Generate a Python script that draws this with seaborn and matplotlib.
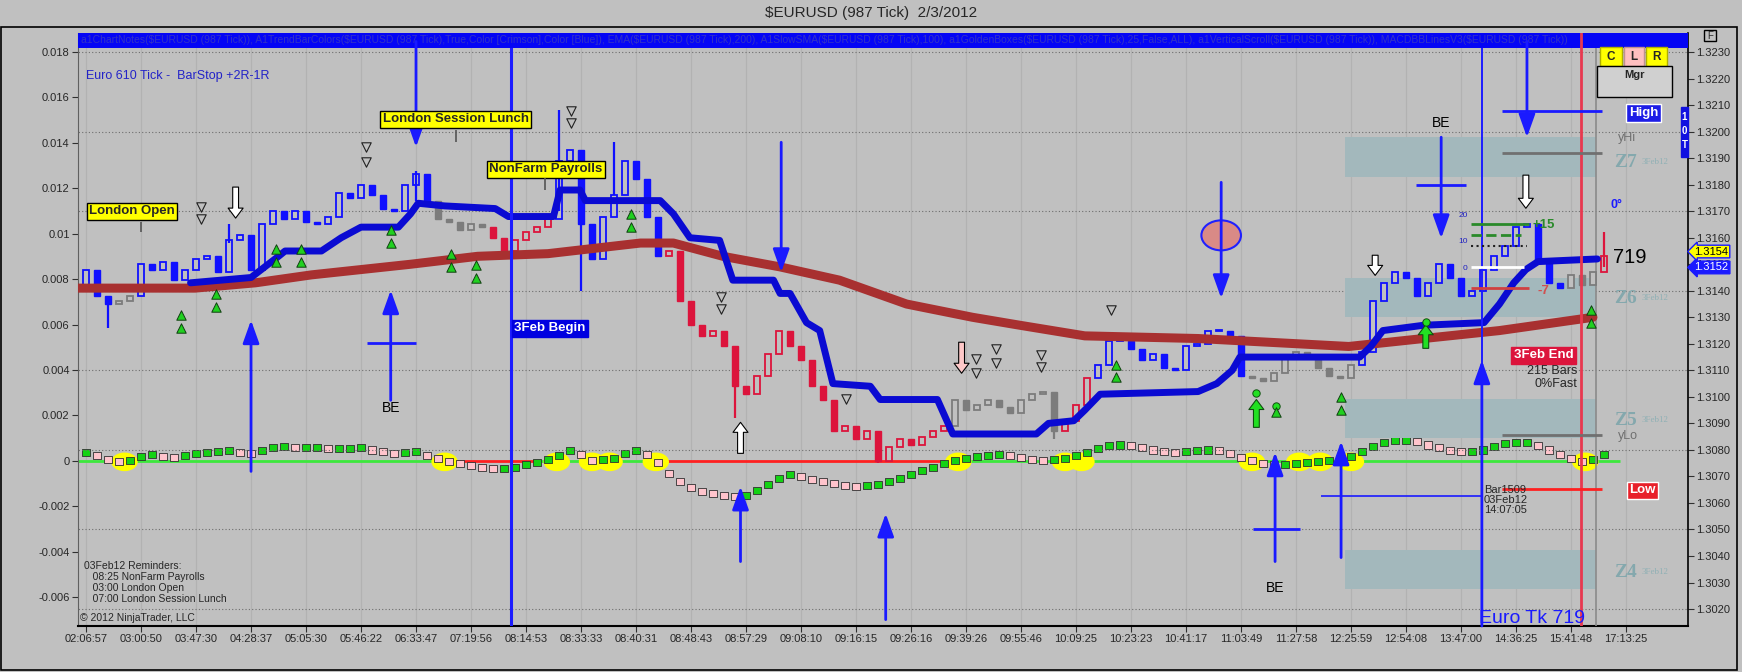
import numpy as np
import pandas as pd
import seaborn as sns
import matplotlib.pyplot as plt
from matplotlib.patches import Rectangle, Ellipse
from matplotlib.ticker import FuncFormatter, FormatStrFormatter

sns.set_style("ticks")
plt.rcParams['font.family'] = ['Liberation Sans', 'DejaVu Sans']

BG = '#c0c0c0'
W, H = 1742, 672

# x = bar number, one time label every 5 bars
time_labels = ["02:06:57", "03:00:50", "03:47:30", "04:28:37", "05:05:30", "05:46:22",
               "06:33:47", "07:19:56", "08:14:53", "08:33:33", "08:40:31", "08:48:43",
               "08:57:29", "09:08:10", "09:16:15", "09:26:16", "09:39:26", "09:55:46",
               "10:09:25", "10:23:23", "10:41:17", "11:03:49", "11:27:58", "12:25:59",
               "12:54:08", "13:47:00", "14:36:25", "15:41:48", "17:13:25"]
left_ticks = [-0.006, -0.004, -0.002, 0, 0.002, 0.004, 0.006, 0.008, 0.01, 0.012, 0.014, 0.016, 0.018]
price_ticks = [1.3020, 1.3030, 1.3040, 1.3050, 1.3060, 1.3070, 1.3080, 1.3090, 1.3100, 1.3110, 1.3120,
               1.3130, 1.3140, 1.3150, 1.3160, 1.3170, 1.3180, 1.3190, 1.3200, 1.3210, 1.3220, 1.3230]
grid_levels = [1.3020, 1.3050, 1.3080, 1.3110, 1.3140, 1.3170, 1.3200, 1.3230]

# closes of the tick bars
first_open = 1.3142
close = [1.3148, 1.3138, 1.3135, 1.3136, 1.3138, 1.3150, 1.3148, 1.3151, 1.3144, 1.3148,
         1.3152, 1.3153, 1.3147, 1.3159, 1.3161, 1.3148, 1.3165, 1.3170, 1.3167, 1.3170,
         1.3166, 1.3165, 1.3168, 1.3177, 1.3175, 1.3180, 1.3176, 1.3171, 1.3170, 1.3180,
         1.3184, 1.3174, 1.3167, 1.3166, 1.3163, 1.3165, 1.3164, 1.3160, 1.3155, 1.3159,
         1.3162, 1.3164, 1.3167, 1.3189, 1.3193, 1.3165, 1.3152, 1.3168, 1.3176, 1.3189,
         1.3182, 1.3168, 1.3153, 1.3155, 1.3136, 1.3127, 1.3123, 1.3125, 1.3119, 1.3104,
         1.3101, 1.3108, 1.3116, 1.3125, 1.3119, 1.3114, 1.3104, 1.3099, 1.3087, 1.3089,
         1.3084, 1.3087, 1.3076, 1.3081, 1.3084, 1.3082, 1.3085, 1.3087, 1.3089, 1.3099,
         1.3095, 1.3097, 1.3099, 1.3096, 1.3094, 1.3099, 1.3101, 1.3102, 1.3087, 1.3091,
         1.3097, 1.3107, 1.3112, 1.3121, 1.3121, 1.3118, 1.3114, 1.3116, 1.3111, 1.3110,
         1.3119, 1.3120, 1.3125, 1.3125, 1.3123, 1.3108, 1.3107, 1.3106, 1.3109, 1.3115,
         1.3117, 1.3115, 1.3111, 1.3108, 1.3107, 1.3112, 1.3117, 1.3136, 1.3143, 1.3147,
         1.3145, 1.3138, 1.3143, 1.3150, 1.3145, 1.3138, 1.3140, 1.3148, 1.3153, 1.3157,
         1.3164, 1.3165, 1.3151, 1.3143, 1.3141, 1.3146, 1.3142, 1.3147, 1.3153]
trend_start = [0, 3, 5, 32, 37, 43, 53, 79, 89, 92, 106, 116, 135, 138]
trend_color = ['blue', 'gray', 'blue', 'gray', 'red', 'blue', 'red', 'gray', 'red', 'blue',
               'gray', 'blue', 'gray', 'red']
wick_bar = [2, 13, 30, 43, 45, 48, 59, 72, 88, 138]
wick_hi = [1.3138, 1.3165, 1.3185, 1.3208, 1.3168, 1.3196, 1.3104, 1.3084, 1.3099, 1.3162]
wick_lo = [1.3126, 1.3158, 1.3174, 1.3170, 1.3140, 1.3176, 1.3092, 1.3075, 1.3084, 1.3149]

# oscillator (left scale)
osc = [0.00035, 0.00022, 0.00004, -0.00004, 0.0, 0.00018, 0.00026, 0.00018, 0.00013, 0.00022,
       0.00031, 0.00035, 0.00040, 0.00044, 0.00035, 0.00031, 0.00044, 0.00057, 0.00062, 0.00057,
       0.00057, 0.00057, 0.00053, 0.00053, 0.00053, 0.00057, 0.00048, 0.00040, 0.00031, 0.00035,
       0.00040, 0.00022, 0.00009, -0.00004, -0.00013, -0.00022, -0.00031, -0.00035, -0.00035, -0.00031,
       -0.00018, -0.00009, 0.00004, 0.00022, 0.00044, 0.00026, 0.0, 0.00004, 0.00009, 0.00031,
       0.00044, 0.00026, -0.00009, -0.00057, -0.00092, -0.00119, -0.00136, -0.00145, -0.00154, -0.00158,
       -0.00154, -0.00132, -0.00106, -0.00079, -0.00062, -0.00070, -0.00084, -0.00092, -0.00101, -0.00110,
       -0.00114, -0.00110, -0.00106, -0.00092, -0.00079, -0.00062, -0.00044, -0.00031, -0.00013, 0.0,
       0.00009, 0.00018, 0.00022, 0.00026, 0.00022, 0.00013, 0.00004, 0.0, 0.00004, 0.00009,
       0.00022, 0.00035, 0.00053, 0.00066, 0.00070, 0.00066, 0.00057, 0.00048, 0.00040, 0.00035,
       0.00040, 0.00044, 0.00048, 0.00044, 0.00031, 0.00013, 0.0, -0.00013, -0.00018, -0.00018,
       -0.00013, -0.00009, -0.00004, 0.0, 0.00004, 0.00018, 0.00040, 0.00062, 0.00079, 0.00088,
       0.00092, 0.00084, 0.00070, 0.00057, 0.00044, 0.00040, 0.00040, 0.00048, 0.00062, 0.00075,
       0.00079, 0.00079, 0.00066, 0.00048, 0.00026, 0.00009, -0.00004, 0.00004, 0.00026]
zero_start = [-0.73, 32.7, 41.3, 52.2, 79.0]
zero_end = [32.7, 41.3, 52.2, 79.0, 139.5]
zero_color = ['#3ce83c', '#ff2020', '#3ce83c', '#ff2020', '#3ce83c']
yellow_bar = [3.5, 32.6, 42.8, 46.0, 47.6, 51.8, 79.3, 89.0, 90.5, 106.0, 110.3, 112.2, 115.0, 136.3]

# slow moving average and bar stop
ma_bar = [-0.7, 9.9, 15.4, 20.5, 29.5, 35.6, 42.0, 50.4, 53.4, 57.9, 63.1, 68.5, 74.6, 80.6,
          84.9, 90.8, 101.1, 114.8, 121.6, 128.5, 137.0]
ma_val = [1.3141, 1.3141, 1.3143, 1.3146, 1.3150, 1.3153, 1.3154, 1.3158, 1.3158, 1.3153, 1.3149,
          1.3144, 1.3135, 1.3130, 1.3127, 1.3123, 1.3122, 1.3119, 1.3122, 1.3125, 1.3130]
stop_bar = [9.5, 15.0, 17.5, 18.1, 21.4, 23.2, 25.0, 28.4, 29.5, 30.2, 32.6, 37.2, 38.4, 42.5,
            43.1, 44.9, 45.4, 52.2, 53.4, 54.9, 57.6, 58.8, 62.5, 63.1, 64.0, 65.5, 66.7, 67.9,
            71.3, 72.2, 77.4, 78.8, 86.4, 87.5, 89.8, 90.8, 92.2, 101.1, 102.8, 104.2, 104.9,
            115.8, 116.8, 117.9, 121.6, 127.1, 128.5, 129.8, 130.9, 132.0, 137.4]
stop_val = [1.3143, 1.3145, 1.3153, 1.3155, 1.3155, 1.3160, 1.3164, 1.3164, 1.3169, 1.3173,
            1.3172, 1.3171, 1.3168, 1.3168, 1.3178, 1.3178, 1.3174, 1.3174, 1.3169, 1.3160,
            1.3159, 1.3144, 1.3144, 1.3139, 1.3139, 1.3128, 1.3125, 1.3105, 1.3104, 1.3099,
            1.3099, 1.3086, 1.3086, 1.3090, 1.3091, 1.3095, 1.3101, 1.3102, 1.3105, 1.3110,
            1.3115, 1.3115, 1.3119, 1.3125, 1.3127, 1.3128, 1.3135, 1.3143, 1.3148, 1.3151, 1.3152]

# golden boxes (zones)
zone_names = ['Z7', 'Z6', 'Z5', 'Z4']
zone_top = [1.31979, 1.31447, 1.30991, 1.30421]
zone_bot = [1.31828, 1.31300, 1.30843, 1.30274]
zone_label = [1.31885, 1.31372, 1.30911, 1.30338]

# markers and arrows
arrow_bar = [30.0, 15.0, 27.7, 63.2, 59.5, 72.7, 103.2, 108.1, 114.1, 123.2, 126.9, 131.0]
arrow_from = [1.32340, 1.30719, 1.30987, 1.31960, 1.30379, 1.30160, 1.31809, 1.30379, 1.30394,
              1.31979, 1.30136, 1.32340]
arrow_to = [1.31942, 1.31289, 1.31402, 1.31470, 1.30662, 1.30560, 1.31372, 1.30791, 1.30832,
            1.31598, 1.31138, 1.31979]
cross_x0 = [25.5, 106.1, 120.9]
cross_x1 = [30.0, 110.4, 125.5]
cross_val = [1.31202, 1.30500, 1.31798]
be_bar = [27.7, 108.1, 123.2]
be_val = [1.30957, 1.30281, 1.32032]
hollow_bar = [13.6, 59.5, 79.6, 117.2, 130.9]
hollow_from = [1.31791, 1.30787, 1.31206, 1.31534, 1.31836]
hollow_to = [1.31674, 1.30904, 1.31089, 1.31458, 1.31711]
hollow_face = ['white', 'white', '#ffc8c8', 'white', 'white']
green_bar = [106.4, 121.8]
green_from = [1.30885, 1.31183]
green_to = [1.30990, 1.31272]
gdot_bar = [106.4, 108.2, 121.8]
gdot_val = [1.31013, 1.30966, 1.31281]
up_tri_bar = [8.64, 8.64, 11.82, 11.82, 17.27, 17.27, 19.55, 19.55, 27.73, 27.73, 33.18, 33.18,
              35.45, 35.45, 49.55, 49.55, 93.64, 93.64, 114.09, 114.09, 108.18, 136.82, 136.82]
up_tri_val = [1.31308, 1.31259, 1.31387, 1.31338, 1.31557, 1.31508, 1.31557, 1.31508, 1.31628,
              1.31579, 1.31538, 1.31489, 1.31496, 1.31447, 1.31689, 1.31640, 1.31119, 1.31074,
              1.30998, 1.30949, 1.30942, 1.31326, 1.31277]
dn_tri_bar = [10.45, 10.45, 25.45, 25.45, 44.09, 44.09, 57.73, 57.73, 69.09, 80.91, 80.91,
              82.73, 82.73, 86.82, 86.82, 93.18]
dn_tri_val = [1.31715, 1.31670, 1.31942, 1.31885, 1.32077, 1.32032, 1.31375, 1.31330, 1.30991,
              1.31142, 1.31089, 1.31179, 1.31126, 1.31157, 1.31111, 1.31326]

# ---------------------------------------------------------------
fig = plt.figure(figsize=(W / 100, H / 100), dpi=100, facecolor=BG)
ax = fig.add_axes([78 / W, 1 - 626 / H, (1688 - 78) / W, (626 - 33) / H])
ax.set_facecolor(BG)
axp = ax.twinx()
ax.set_xlim(-0.73, 145.64)
ax.set_ylim(-0.00728, 0.01884)
axp.set_ylim(1.30136, 1.32372)

# grids
ax.set_xticks(range(0, 5 * len(time_labels), 5))
ax.set_xticklabels(time_labels, fontsize=8)
ax.grid(axis='x', color='#b2b2b2', lw=0.9)
ax.grid(axis='y', visible=False)
axp.hlines(grid_levels, -1, 146, colors='#6e6e6e', linestyles=(0, (1, 2)), lw=0.8, zorder=0.5)

ax.set_yticks(left_ticks)
ax.yaxis.set_major_formatter(FuncFormatter(lambda v, p: '0' if abs(v) < 1e-9 else f'{round(v, 4):g}'))
axp.set_yticks(price_ticks)
axp.yaxis.set_major_formatter(FormatStrFormatter('%.4f'))
ax.tick_params(axis='both', labelsize=8, length=4, color='#303030', pad=2)
axp.tick_params(axis='y', labelsize=8, length=4, color='#303030', pad=2)
for s in ['top', 'right']:
    ax.spines[s].set_visible(False)
for s in ['top', 'left', 'bottom']:
    axp.spines[s].set_visible(False)
ax.spines['left'].set_color('#606060')
ax.spines['left'].set_linewidth(0.8)
ax.spines['bottom'].set_linewidth(1.5)
ax.spines['bottom'].set_color('black')
axp.spines['right'].set_linewidth(1.2)
axp.spines['right'].set_color('black')

# oscillator
ax.hlines([0] * len(zero_start), zero_start, zero_end, colors=zero_color, lw=2, zorder=2)
for b in yellow_bar:
    ax.add_patch(Ellipse((b, -0.00005), 2.4, 0.00082, facecolor='#ffff00', edgecolor='none', zorder=2.5))
bars = np.arange(len(close))
osc_df = pd.DataFrame({'bar': bars, 'osc': osc})
osc_df['dir'] = np.where(osc_df['osc'].diff().fillna(1) >= 0, 'up', 'down')
sns.scatterplot(data=osc_df, x='bar', y='osc', hue='dir', palette={'up': '#14d214', 'down': '#ffc4cc'},
                marker='s', s=28, edgecolor='#303030', linewidth=0.6, legend=False, ax=ax, zorder=4)
ax.set_xlabel('')
ax.set_ylabel('')

# zones
for top, bot, name, ly in zip(zone_top, zone_bot, zone_names, zone_label):
    axp.add_patch(Rectangle((114.5, bot), 137.3 - 114.5, top - bot, facecolor='#a3b8bc',
                            edgecolor='none', zorder=1))
    axp.text(138.9, ly, name, family=['Liberation Serif', 'DejaVu Serif'], fontsize=14,
             fontweight='bold', color='#84a8ad', va='center', zorder=6)
    axp.text(141.4, ly, '3Feb12', family=['Liberation Serif', 'DejaVu Serif'], fontsize=6.5,
             color='#8fb0b5', va='center', zorder=6)

# candles
col_map = {'blue': '#1010ff', 'red': '#dc143c', 'gray': '#7c7c7c'}
close_arr = np.array(close)
opens = np.r_[first_open, close_arr[:-1]]
idx = np.searchsorted(trend_start, bars, side='right') - 1
bar_cols = np.array([col_map[trend_color[i]] for i in idx])
up = close_arr >= opens
body_lo = np.minimum(opens, close_arr)
body_h = np.maximum(np.abs(close_arr - opens), 0.00004)
axp.bar(bars[up], body_h[up], bottom=body_lo[up], width=0.62, facecolor=BG,
        edgecolor=bar_cols[up], linewidth=1.3, zorder=3)
axp.bar(bars[~up], body_h[~up], bottom=body_lo[~up], width=0.62, facecolor=bar_cols[~up],
        edgecolor=bar_cols[~up], linewidth=1.0, zorder=3)
axp.vlines(wick_bar, wick_lo, wick_hi, colors=bar_cols[wick_bar], lw=1.6, zorder=3)

# moving average and stop line
sns.lineplot(x=ma_bar, y=ma_val, color='#a83030', lw=6.5, sort=False, estimator=None, ax=axp, zorder=4)
sns.lineplot(x=stop_bar, y=stop_val, color='#0a0ad2', lw=5, sort=False, estimator=None, ax=axp, zorder=5)
axp.set_ylabel('')

# header strip
axp.add_patch(Rectangle((0, 0.9755), 1, 0.0245, transform=axp.transAxes, facecolor='#0505f5',
                        edgecolor='none', zorder=5.5))
header = ("a1ChartNotes($EURUSD (987 Tick)), A1TrendBarColors($EURUSD (987 Tick),True,Color [Crimson],"
          "Color [Blue]), EMA($EURUSD (987 Tick),200), A1SlowSMA($EURUSD (987 Tick),100), "
          "a1GoldenBoxes($EURUSD (987 Tick),25,False,ALL), a1VerticalScroll($EURUSD (987 Tick)), "
          "MACDBBLinesV3($EURUSD (987 Tick))")
axp.text(0.002, 0.988, header, transform=axp.transAxes, fontsize=7.5, color='#3434c4',
         va='center', clip_on=True, zorder=5.6)

# vertical session lines
axp.axvline(38.64, color='#1c1cff', lw=2.2, zorder=5)
axp.axvline(126.9, color='#1c1cff', lw=1.4, zorder=5)
axp.axvline(135.9, color='#e8384f', lw=2, zorder=6)
axp.axvline(137.3, color='#8a8a8a', lw=1.2, zorder=2)

# blue arrows, crosshairs, BE
for b, y0, y1 in zip(arrow_bar, arrow_from, arrow_to):
    axp.annotate('', xy=(b, y1), xytext=(b, y0),
                 arrowprops=dict(arrowstyle='-|>,head_length=0.7,head_width=0.25', color='#1a1aff',
                                 lw=2, shrinkA=0, shrinkB=0, mutation_scale=20), zorder=7)
axp.hlines(cross_val, cross_x0, cross_x1, colors='#1a1aff', lw=2, zorder=7)
for b, v in zip(be_bar, be_val):
    axp.text(b, v, 'BE', ha='center', va='center', fontsize=10, color='black', zorder=7)
axp.add_patch(Ellipse((103.2, 1.31609), 3.6, 0.00113, facecolor='#d98a86', edgecolor='#2020ff',
                      lw=1.5, zorder=6.5))

# hollow / green arrows
for b, y0, y1, fc in zip(hollow_bar, hollow_from, hollow_to, hollow_face):
    axp.annotate('', xy=(b, y1), xytext=(b, y0),
                 arrowprops=dict(arrowstyle='simple,head_length=0.6,head_width=0.9,tail_width=0.35',
                                 fc=fc, ec='black', lw=0.8, shrinkA=0, shrinkB=0, mutation_scale=12),
                 zorder=7)
for b, y0, y1 in zip(green_bar, green_from, green_to):
    axp.annotate('', xy=(b, y1), xytext=(b, y0),
                 arrowprops=dict(arrowstyle='simple,head_length=0.6,head_width=0.9,tail_width=0.35',
                                 fc='#22e022', ec='#105010', lw=0.8, shrinkA=0, shrinkB=0,
                                 mutation_scale=12), zorder=7)
axp.scatter(gdot_bar, gdot_val, s=28, c='#22e022', edgecolors='#105010', linewidths=0.7, zorder=7)
axp.scatter(up_tri_bar, up_tri_val, marker='^', s=46, c='#20d020', edgecolors='#104010',
            linewidths=0.7, zorder=7)
axp.scatter(dn_tri_bar, dn_tri_val, marker='v', s=46, c=BG, edgecolors='#202020',
            linewidths=0.8, zorder=7)

# yellow event labels
ybox = dict(boxstyle='square,pad=0.18', fc='#ffff00', ec='black', lw=1)
axp.text(4.18, 1.31700, 'London Open', ha='center', va='center', fontsize=9.5, fontweight='bold', bbox=ybox, zorder=8)
axp.text(33.6, 1.32047, 'London Session Lunch', ha='center', va='center', fontsize=9.5, fontweight='bold', bbox=ybox, zorder=8)
axp.text(41.8, 1.31858, 'NonFarm Payrolls', ha='center', va='center', fontsize=9.5, fontweight='bold', bbox=ybox, zorder=8)
axp.vlines([5.0, 33.6, 41.7], [1.31621, 1.31960, 1.31779], [1.31658, 1.32006, 1.31825],
           colors='#555555', lw=1.2, zorder=8)
axp.text(38.9, 1.31258, '3Feb Begin', ha='left', va='center', fontsize=9.5, fontweight='bold', color='white',
         bbox=dict(boxstyle='square,pad=0.18', fc='#0000e0', ec='#0000e0'), zorder=8)
axp.text(132.5, 1.31157, '3Feb End', ha='center', va='center', fontsize=9.5, fontweight='bold', color='white',
         bbox=dict(boxstyle='square,pad=0.18', fc='#dc143c', ec='#dc143c'), zorder=8)
axp.text(135.6, 1.31096, '215 Bars', ha='right', va='center', fontsize=9, zorder=8)
axp.text(135.6, 1.31047, '0%Fast', ha='right', va='center', fontsize=9, zorder=8)

# right side levels
lv_x0, lv_x1 = 128.7, 137.8
axp.hlines([1.32077], lv_x0, lv_x1, colors='#1a1aff', lw=2, zorder=7)
axp.hlines([1.31919, 1.30858], lv_x0, lv_x1, colors='#707070', lw=2, zorder=7)
axp.hlines([1.30651], lv_x0, lv_x1, colors='#ff2020', lw=2, zorder=7)
axp.hlines([1.30628], 112.3, 126.9, colors='#1a1aff', lw=1.2, zorder=7)
axp.text(141.6, 1.32070, 'High', ha='center', va='center', fontsize=9.5, fontweight='bold', color='white',
         bbox=dict(boxstyle='square,pad=0.2', fc='#1e1ee6', ec='white'), zorder=8)
axp.text(141.5, 1.30647, 'Low', ha='center', va='center', fontsize=9.5, fontweight='bold', color='white',
         bbox=dict(boxstyle='square,pad=0.2', fc='#e8202a', ec='white'), zorder=8)
axp.text(139.3, 1.31975, 'yHi', ha='left', va='center', fontsize=9, color='#707070', zorder=8)
axp.text(139.3, 1.30851, 'yLo', ha='left', va='center', fontsize=9, color='#707070', zorder=8)
axp.text(138.6, 1.31723, '0°', ha='left', va='center', fontsize=9, fontweight='bold', color='#1a1aff', zorder=8)
axp.text(138.8, 1.31526, '719', ha='left', va='center', fontsize=14.5, color='black', zorder=8)
axp.text(127.1, 1.30666, 'Bar1509\n03Feb12\n14:07:05', ha='left', va='top', fontsize=8,
         linespacing=0.95, zorder=8)
axp.text(126.6, 1.30164, 'Euro Tk 719', ha='left', va='center', fontsize=14, color='#1a1aff', zorder=8)

# trade ruler
axp.hlines([1.31651], 125.9, 131.2, colors='#2a8a2a', lw=2, zorder=7)
axp.hlines([1.31609], 125.9, 130.5, colors='#2a8a2a', lw=2, linestyles='--', zorder=7)
axp.hlines([1.31568], 125.9, 131.0, colors='#202020', lw=1.5, linestyles=':', zorder=7)
axp.hlines([1.31489], 125.9, 130.7, colors='white', lw=2, zorder=7)
axp.hlines([1.31409], 125.9, 131.2, colors='#d04040', lw=2, zorder=7)
axp.text(131.5, 1.31647, '+15', ha='left', va='center', fontsize=9.5, fontweight='bold', color='#2a8a2a', zorder=8)
axp.text(132.0, 1.31400, '-7', ha='left', va='center', fontsize=9.5, fontweight='bold', color='#d05050', zorder=8)
for t, v in zip(['20', '10', '0'], [1.31685, 1.31587, 1.31485]):
    axp.text(125.6, v, t, ha='right', va='center', fontsize=6, color='#2020c0', zorder=8)

# texts at left
axp.text(0.0, 1.32209, 'Euro 610 Tick -  BarStop +2R-1R', ha='left', va='center', fontsize=9,
         color='#2323c8', zorder=8)
axp.text(-0.2, 1.30380, '03Feb12 Reminders:\n   08:25 NonFarm Payrolls\n   03:00 London Open\n'
         '   07:00 London Session Lunch', ha='left', va='top', fontsize=7.5, linespacing=1.1, zorder=8)
axp.text(-0.55, 1.30168, '© 2012 NinjaTrader, LLC', ha='left', va='center', fontsize=7.5, zorder=8)

# price tags on the right axis
axp.text(1.004, 1.31488, '1.3152', transform=axp.get_yaxis_transform(), fontsize=8, color='white',
         va='center', bbox=dict(boxstyle='larrow,pad=0.12', fc='#1a1aff', ec='#1a1aff'), zorder=9)
axp.text(1.004, 1.31548, '1.3154', transform=axp.get_yaxis_transform(), fontsize=8, color='black',
         va='center', bbox=dict(boxstyle='larrow,pad=0.12', fc='#ffff00', ec='#1a1aff'), zorder=10)


def fig_box(x0, y0, x1, y1, fc, ec='black', lw=1):
    fig.add_artist(Rectangle((x0 / W, 1 - y1 / H), (x1 - x0) / W, (y1 - y0) / H,
                             transform=fig.transFigure, fc=fc, ec=ec, lw=lw, zorder=10))


fig_box(1600, 47, 1622, 66, '#ffff00', ec='#b0b000')
fig_box(1624, 47, 1644, 66, '#ffc0c0', ec='#c09090')
fig_box(1646, 47, 1667, 66, '#ffff00', ec='#b0b000')
fig_box(1597, 66, 1672, 97, '#d0d0d0')
fig_box(1681, 107, 1688, 157, '#1010e0', ec='#1010e0')
fig_box(1704, 30, 1716, 41, BG)
for t, x in zip(['C', 'L', 'R'], [1611, 1634, 1656]):
    fig.text(x / W, 1 - 57 / H, t, ha='center', va='center', fontsize=8.5, fontweight='bold', zorder=11)
fig.text(1634 / W, 1 - 75 / H, 'Mgr', ha='center', va='center', fontsize=8, fontweight='bold', zorder=11)
fig.text(1710 / W, 1 - 36 / H, 'F', ha='center', va='center', fontsize=7, zorder=11)
for t, y in zip(['1', '0', 'T'], [117, 131, 145]):
    fig.text(1684.5 / W, 1 - y / H, t, ha='center', va='center', fontsize=7, fontweight='bold',
             color='white', zorder=11)

# title and outer frame
fig.text(0.5, 1 - 13 / H, '$EURUSD (987 Tick)  2/3/2012', ha='center', va='center', fontsize=11)
fig.add_artist(Rectangle((1 / W, 2 / H), 1736 / W, (670 - 27) / H, transform=fig.transFigure,
                         fill=False, ec='black', lw=1.2))

fig.savefig('out.png', dpi=100, facecolor=BG)
